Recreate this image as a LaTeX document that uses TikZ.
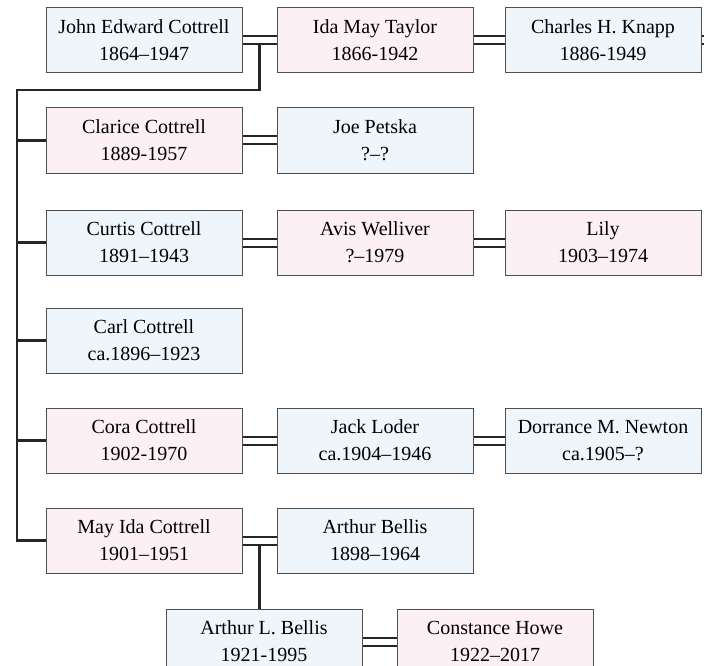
\documentclass[tikz,border=0pt]{standalone}
\usepackage{fontspec}
\setmainfont{Liberation Serif}
\usepackage{xcolor}
\usetikzlibrary{positioning}
\definecolor{boyblue}{HTML}{EEF6FC}
\definecolor{girlpink}{HTML}{FCF0F4}
\definecolor{boxline}{HTML}{4F4F4F}
\definecolor{treeline}{HTML}{262626}

\begin{document}
\begin{tikzpicture}[x=1pt, y=1pt,
    person/.style={draw=boxline, line width=1pt, minimum width=196pt, minimum height=65pt,
        align=center, inner sep=2pt, font=\fontsize{20}{27}\selectfont},
    male/.style={person, fill=boyblue},
    female/.style={person, fill=girlpink},
    wed/.style={draw=treeline, line width=2pt, double=white, double distance=6pt},
    kin/.style={draw=treeline, line width=2.4pt}
]
    \useasboundingbox (0,0) rectangle (704,-666);
    \clip (0,0) rectangle (704,-666);

    % parents
    \node[male] (john) at (144,-40.5) {John Edward Cottrell\\1864–1947};
    \node[female, right=34pt of john] (ida) {Ida May Taylor\\1866-1942};
    \node[male, right=31pt of ida] (knapp) {Charles H. Knapp\\1886-1949};

    % children and spouses
    \node[female, below=34pt of john] (clarice) {Clarice Cottrell\\1889-1957};
    \node[male, right=34pt of clarice] (joe) {Joe Petska\\?–?};
    \node[male, below=36pt of clarice] (curtis) {Curtis Cottrell\\1891–1943};
    \node[female, right=34pt of curtis] (avis) {Avis Welliver\\?–1979};
    \node[female, right=31pt of avis] (lily) {Lily\\1903–1974};
    \node[male, below=32pt of curtis] (carl) {Carl Cottrell\\ca.1896–1923};
    \node[female, below=34pt of carl] (cora) {Cora Cottrell\\1902-1970};
    \node[male, right=34pt of cora] (jack) {Jack Loder\\ca.1904–1946};
    \node[male, right=31pt of jack] (dorrance) {Dorrance M. Newton\\ca.1905–?};
    \node[female, below=34pt of cora] (mayida) {May Ida Cottrell\\1901–1951};
    \node[male, right=34pt of mayida] (arthur) {Arthur Bellis\\1898–1964};

    % grandchild
    \node[male, below right=35pt and -77pt of mayida] (arthurl) {Arthur L. Bellis\\1921-1995};
    \node[female, right=34pt of arthurl] (constance) {Constance Howe\\1922–2017};

    % marriages
    \draw[wed] (john) -- (ida) (ida) -- (knapp);
    \draw[wed] (clarice) -- (joe);
    \draw[wed] (curtis) -- (avis) (avis) -- (lily);
    \draw[wed] (cora) -- (jack) (jack) -- (dorrance);
    \draw[wed] (mayida) -- (arthur);
    \draw[wed] (arthurl) -- (constance);
    \coordinate[right=12pt of knapp.east] (offedge);
    \draw[wed] (knapp.east) -- (offedge);

    % descent
    \path (john.east) -- (ida.west) coordinate[pos=.5] (jimid);
    \path (mayida.east) -- (arthur.west) coordinate[pos=.5] (mamid);
    \coordinate (trunk) at (17,-90);
    \draw[kin] ([yshift=-5pt]jimid) |- (trunk) |- (mayida.west);
    \foreach \kid in {clarice,curtis,carl,cora}
        \draw[kin] (\kid.west) -- (\kid.west -| trunk);
    \draw[kin] ([yshift=-5pt]mamid) -- (arthurl.north -| mamid);
\end{tikzpicture}
\end{document}
